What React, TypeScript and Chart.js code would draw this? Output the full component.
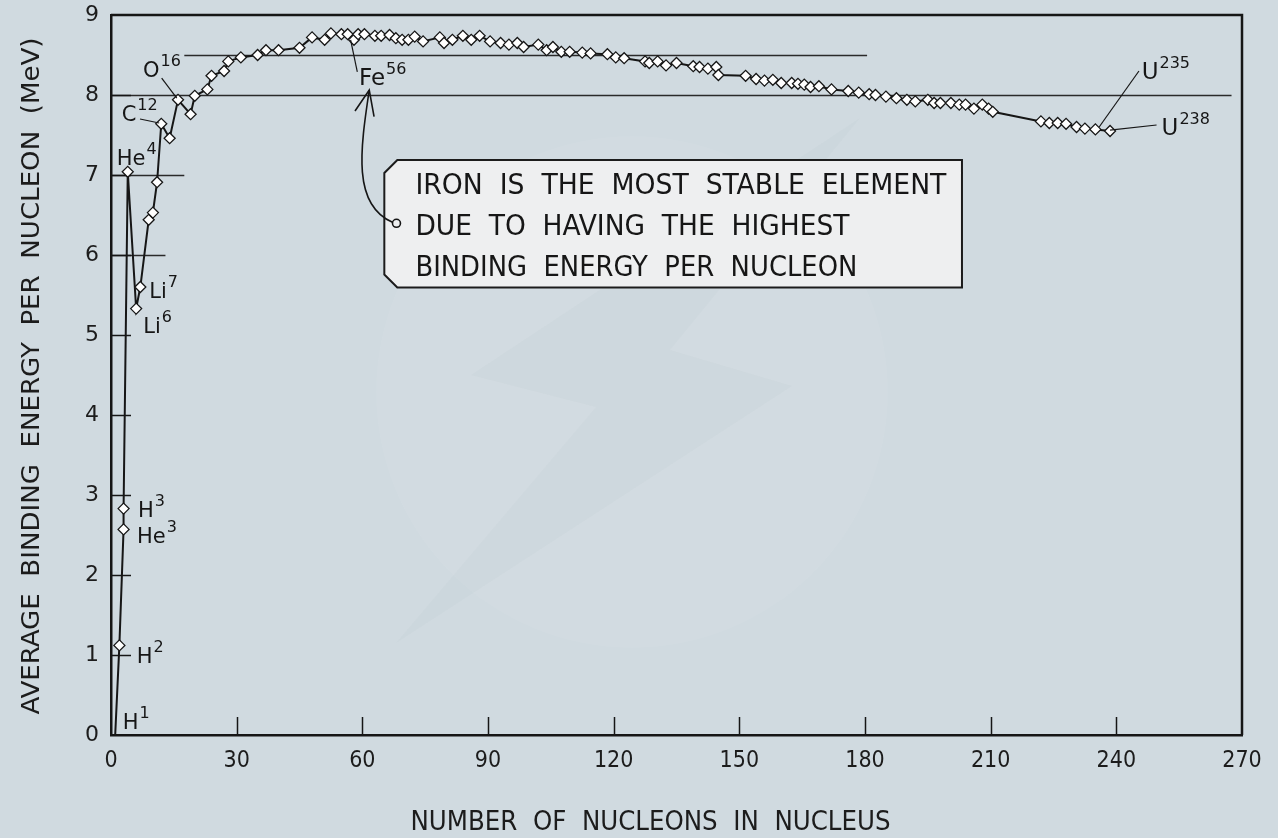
import React, { useEffect, useRef } from "react";
import { Chart, registerables } from "chart.js";

Chart.register(...registerables);

// ---- data ----
const nucleons: number[] = [
  1, 2, 3, 3, 4, 6, 7, 9, 10, 11, 12, 14, 16, 19, 20, 23, 24, 27, 28, 31, 35, 37, 40, 45, 48,
  51, 52.5, 55, 56.5, 58, 59, 60.5, 63, 64.5, 66.5, 68, 69.5, 71, 72.5, 74.5, 78.5, 79.5, 81.5,
  84, 86, 88, 90.5, 93, 95, 97, 98.5, 102, 104, 105.5, 107.5, 109.5, 112.5, 114.5, 118.5, 120.5,
  122.5, 127.5, 128.5, 130.5, 132.5, 135, 139, 140.5, 142.5, 144.5, 145, 151.5, 154, 156, 158,
  160, 162.5, 164, 165.5, 167, 169, 172, 176, 178.5, 181, 182.5, 185, 187.5, 190, 192, 195,
  196.5, 198, 200.5, 202.5, 204, 206, 208, 209.5, 210.5, 222, 224, 226, 228, 230.5, 232.5, 235,
  238.5,
];
const bindingEnergy: number[] = [
  0, 1.12, 2.57, 2.83, 7.04, 5.33, 5.6, 6.44, 6.53, 6.91, 7.64, 7.46, 7.94, 7.76, 7.99, 8.07,
  8.24, 8.3, 8.42, 8.47, 8.5, 8.56, 8.56, 8.59, 8.72, 8.69, 8.77, 8.76, 8.76, 8.69, 8.76, 8.76,
  8.74, 8.74, 8.75, 8.71, 8.69, 8.69, 8.73, 8.67, 8.72, 8.65, 8.69, 8.74, 8.69, 8.74, 8.67, 8.65,
  8.63, 8.65, 8.6, 8.63, 8.56, 8.6, 8.54, 8.54, 8.53, 8.52, 8.51, 8.47, 8.46, 8.42, 8.4, 8.42,
  8.37, 8.4, 8.36, 8.35, 8.33, 8.35, 8.25, 8.24, 8.2, 8.18, 8.19, 8.15, 8.15, 8.14, 8.13, 8.1,
  8.11, 8.07, 8.05, 8.03, 8.01, 8.0, 7.98, 7.96, 7.94, 7.92, 7.94, 7.9, 7.9, 7.9, 7.88, 7.88,
  7.83, 7.88, 7.83, 7.79, 7.67, 7.65, 7.65, 7.64, 7.6, 7.58, 7.57, 7.55,
];
const xTickStep = 30;
const xMax = 270;
const yTickStep = 1;
const yMax = 9;

const xTitle = "NUMBER  OF  NUCLEONS  IN  NUCLEUS";
const yTitle = "AVERAGE  BINDING  ENERGY  PER  NUCLEON  (MeV)";
const noteLines = [
  "IRON  IS  THE  MOST  STABLE  ELEMENT",
  "DUE  TO  HAVING  THE  HIGHEST",
  "BINDING  ENERGY  PER  NUCLEON",
];

// nuclide labels: [main, superscript, x (A), baseline y (MeV), main font size]
const nuclideLabels: [string, string, number, number, number][] = [
  ["H", "1", 2.78, 0.075, 21],
  ["H", "2", 6.13, 0.9, 21],
  ["H", "3", 6.45, 2.73, 21],
  ["He", "3", 6.2, 2.4, 21],
  ["He", "4", 1.36, 7.125, 21],
  ["C", "12", 2.55, 7.67, 21],
  ["O", "16", 7.64, 8.225, 21],
  ["Li", "7", 9.14, 5.46, 21],
  ["Li", "6", 7.71, 5.025, 21],
  ["Fe", "56", 59.2, 8.125, 23],
  ["U", "235", 246.05, 8.196, 23],
  ["U", "238", 250.8, 7.5, 23],
];
// leader lines [x1, y1, x2, y2] in data units
const leaders: [number, number, number, number][] = [
  [6.92, 7.7, 11.5, 7.65],
  [12.1, 8.21, 15.7, 7.96],
  [57.2, 8.69, 58.8, 8.29],
  [245.4, 8.3, 235.9, 7.6],
  [238.5, 7.56, 249.6, 7.625],
];
// partial horizontal reference lines [y, xFrom, xTo]
const refLines: [number, number, number][] = [
  [8.5, 17.5, 180.5],
  [8, 0, 267.5],
  [7, 0, 17.5],
  [6, 0, 13],
];

const BG = "#d0dae0";
const INK = "#161616";
const SANS = "'DejaVu Sans', 'Noto Sans', sans-serif";
const COND = "'DejaVu Sans Condensed', 'Liberation Sans Narrow', 'DejaVu Sans', sans-serif";

function fitText(ctx: CanvasRenderingContext2D, text: string, x: number, y: number, width: number, font: string, align: CanvasTextAlign = "left") {
  ctx.save();
  ctx.font = font;
  const w = ctx.measureText(text).width;
  const s = width / w;
  ctx.translate(x, y);
  ctx.scale(s, 1);
  ctx.textAlign = align;
  ctx.fillText(text, 0, 0);
  ctx.restore();
}

const decorPlugin = {
  id: "decor",
  beforeDraw(chart: any) {
    const ctx: CanvasRenderingContext2D = chart.ctx;
    ctx.save();
    ctx.fillStyle = BG;
    ctx.fillRect(0, 0, chart.width, chart.height);
    // faint watermark
    ctx.fillStyle = "rgba(255,255,255,0.045)";
    ctx.beginPath();
    ctx.arc(632, 392, 256, 0, Math.PI * 2);
    ctx.fill();
    ctx.fillStyle = "rgba(120,130,135,0.035)";
    ctx.beginPath();
    ctx.moveTo(860, 118);
    ctx.lineTo(471, 375);
    ctx.lineTo(596, 407);
    ctx.lineTo(396, 643);
    ctx.lineTo(792, 386);
    ctx.lineTo(670, 350);
    ctx.closePath();
    ctx.fill();
    ctx.restore();
  },
  beforeDatasetsDraw(chart: any) {
    const ctx: CanvasRenderingContext2D = chart.ctx;
    const xs = chart.scales.x, ys = chart.scales.y;
    const a = chart.chartArea;
    ctx.save();
    ctx.strokeStyle = "#2a2a2a";
    ctx.lineWidth = 1.3;
    for (const [y, x1, x2] of refLines) {
      const py = Math.round(ys.getPixelForValue(y)) + 0.5;
      ctx.beginPath();
      ctx.moveTo(xs.getPixelForValue(x1), py);
      ctx.lineTo(xs.getPixelForValue(x2), py);
      ctx.stroke();
    }
    // inner ticks
    ctx.lineWidth = 1.5;
    ctx.strokeStyle = INK;
    for (let v = yTickStep; v < yMax; v += yTickStep) {
      const py = Math.round(ys.getPixelForValue(v)) + 0.5;
      ctx.beginPath();
      ctx.moveTo(a.left, py);
      ctx.lineTo(a.left + 20, py);
      ctx.stroke();
    }
    for (let v = xTickStep; v < xMax; v += xTickStep) {
      const px = Math.round(xs.getPixelForValue(v)) + 0.5;
      ctx.beginPath();
      ctx.moveTo(px, a.bottom);
      ctx.lineTo(px, a.bottom - 18);
      ctx.stroke();
    }
    ctx.restore();
  },
  afterDatasetsDraw(chart: any) {
    const ctx: CanvasRenderingContext2D = chart.ctx;
    const xs = chart.scales.x, ys = chart.scales.y;
    const X = (v: number) => xs.getPixelForValue(v);
    const Y = (v: number) => ys.getPixelForValue(v);
    const a = chart.chartArea;
    ctx.save();
    // leader lines
    ctx.strokeStyle = INK;
    ctx.lineWidth = 1.2;
    for (const [x1, y1, x2, y2] of leaders) {
      ctx.beginPath();
      ctx.moveTo(X(x1), Y(y1));
      ctx.lineTo(X(x2), Y(y2));
      ctx.stroke();
    }
    // nuclide labels
    ctx.fillStyle = INK;
    ctx.textBaseline = "alphabetic";
    ctx.textAlign = "left";
    for (const [main, sup, x, y, size] of nuclideLabels) {
      const px = X(x), py = Y(y);
      ctx.font = `${size}px ${SANS}`;
      ctx.fillText(main, px, py);
      const w = ctx.measureText(main).width;
      ctx.font = `16px ${SANS}`;
      ctx.fillText(sup, px + w + 1, py - 11);
    }
    // note box
    const bl = X(65.25), br = X(203.15), bt = Y(7.1875), bb = Y(5.594);
    const ch = 13;
    ctx.beginPath();
    ctx.moveTo(bl + ch, bt);
    ctx.lineTo(br, bt);
    ctx.lineTo(br, bb);
    ctx.lineTo(bl + ch, bb);
    ctx.lineTo(bl, bb - ch);
    ctx.lineTo(bl, bt + ch);
    ctx.closePath();
    ctx.fillStyle = "#eeeff0";
    ctx.fill();
    ctx.lineWidth = 2;
    ctx.strokeStyle = "#1c1c1c";
    ctx.stroke();
    ctx.fillStyle = INK;
    const noteWidths = [531, 434, 442];
    const noteBase = [6.7675, 6.25, 5.7375];
    noteLines.forEach((t, i) => {
      fitText(ctx, t, X(72.67), Y(noteBase[i]), noteWidths[i], `28px ${COND}`);
    });
    // small circle + curved arrow to Fe56
    const cx = X(68.15), cy = Y(6.396);
    ctx.lineWidth = 1.6;
    ctx.strokeStyle = INK;
    ctx.beginPath();
    ctx.arc(cx, cy, 4, 0, Math.PI * 2);
    ctx.stroke();
    const ax = X(61.65), ay = Y(8.0625);
    ctx.beginPath();
    ctx.moveTo(ax, ay);
    ctx.bezierCurveTo(ax - 9, ay + 60, ax - 17, ay + 115, cx - 4, cy - 1);
    ctx.stroke();
    ctx.beginPath();
    ctx.moveTo(X(58.25), Y(7.8));
    ctx.lineTo(ax, ay);
    ctx.lineTo(X(62.8), Y(7.73));
    ctx.stroke();
    // frame (top + right)
    ctx.lineWidth = 2.5;
    ctx.strokeStyle = INK;
    ctx.beginPath();
    ctx.moveTo(a.left, a.top);
    ctx.lineTo(a.right, a.top);
    ctx.lineTo(a.right, a.bottom);
    ctx.stroke();
    // axis titles
    ctx.fillStyle = "#1c1c1c";
    ctx.textBaseline = "alphabetic";
    fitText(ctx, xTitle, (a.left + a.right) / 2 - 26, chart.height - 8, 480, `27px ${COND}`, "center");
    ctx.save();
    ctx.translate(39, (a.top + a.bottom) / 2 + 1);
    ctx.rotate(-Math.PI / 2);
    fitText(ctx, yTitle, 0, 0, 677, `25px ${COND}`, "center");
    ctx.restore();
    ctx.restore();
  },
};

export default function App() {
  const ref = useRef<HTMLCanvasElement | null>(null);
  useEffect(() => {
    document.body.style.margin = "0";
    document.body.style.background = BG;
    const canvas = ref.current!;
    const points = nucleons.map((x, i) => ({ x, y: bindingEnergy[i] }));
    const radii = nucleons.map((_, i) => (i === 0 ? 0 : 5.5));
    const chart = new Chart(canvas, {
      type: "scatter",
      data: {
        datasets: [
          {
            data: points,
            showLine: true,
            borderColor: INK,
            borderWidth: 2,
            pointStyle: "rectRot",
            pointRadius: radii,
            pointHoverRadius: radii,
            pointBackgroundColor: "#ffffff",
            pointBorderColor: INK,
            pointBorderWidth: 1.3,
            tension: 0,
          } as any,
        ],
      },
      options: {
        responsive: false,
        animation: false,
        devicePixelRatio: 1,
        events: [],
        layout: { padding: { top: 15, right: 36, left: 0, bottom: 0 } },
        plugins: { legend: { display: false }, tooltip: { enabled: false } },
        scales: {
          x: {
            type: "linear",
            min: 0,
            max: xMax,
            ticks: { stepSize: xTickStep, color: "#1c1c1c", font: { family: COND, size: 23 }, padding: 12, maxRotation: 0 },
            grid: { display: false, drawTicks: false },
            border: { display: true, color: INK, width: 2.5 },
            afterFit: (s: any) => { s.height = 103; s.paddingLeft = 0; s.paddingRight = 0; },
          },
          y: {
            type: "linear",
            min: 0,
            max: yMax,
            ticks: { stepSize: yTickStep, color: "#1c1c1c", font: { family: SANS, size: 22 }, padding: 12 },
            grid: { display: false, drawTicks: false },
            border: { display: true, color: INK, width: 2.5 },
            afterFit: (s: any) => { s.width = 111; s.paddingTop = 0; s.paddingBottom = 0; },
          },
        },
      } as any,
      plugins: [decorPlugin],
    });
    return () => chart.destroy();
  }, []);
  return (
    <div style={{ width: 1278, height: 838 }}>
      <canvas ref={ref} width={1278} height={838} style={{ display: "block" }} />
    </div>
  );
}
